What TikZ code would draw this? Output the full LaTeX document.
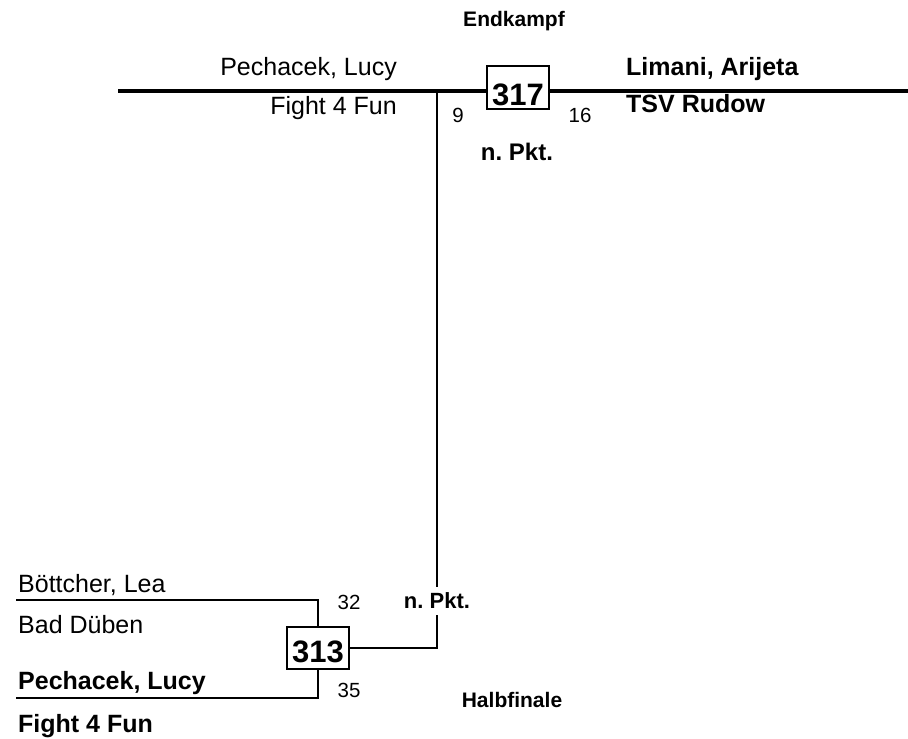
\documentclass[tikz,border=0pt]{standalone}
\usepackage{fontspec}
\setmainfont{Liberation Sans}
\usetikzlibrary{calc}

\tikzset{
  fighter/.style={font=\fontsize{25}{30}\selectfont, inner sep=0pt},
  winner/.style={font=\fontsize{25}{30}\selectfont\bfseries, inner sep=0pt},
  points/.style={font=\fontsize{20.5}{24}\selectfont, inner sep=0pt},
  roundlbl/.style={font=\fontsize{21}{25}\selectfont\bfseries, inner sep=0pt},
  boutbox/.style={draw, line width=1.3pt, inner sep=0pt, minimum width=62pt,
    font=\fontsize{31}{36}\selectfont\bfseries, anchor=base},
  bracket/.style={line width=2.7pt},
}

\begin{document}
\frenchspacing
\begin{tikzpicture}[x=1pt, y=-1pt]
\useasboundingbox (0,0) rectangle (908,739);

% Endkampf
\node[roundlbl, anchor=base] (final) at (514,26) {Endkampf};
\coordinate (tl) at (118,91);
\coordinate (tr) at (908,91);
\node[boutbox, text height=39pt, text depth=4pt] (b317) at (518,105) {317};

\node[fighter, anchor=base east] (redname) at (397,75) {Pechacek, Lucy};
\node[fighter, anchor=base east] (redclub) at (397,114) {Fight 4 Fun};
\node[winner, anchor=base west] (bluename) at (626,75) {Limani, Arijeta};
\node[winner, anchor=base west] (blueclub) at (626,112) {TSV Rudow};

\node[points, anchor=base] (p9) at (458,122) {9};
\node[points, anchor=base] (p16) at (580,122) {16};
\node[roundlbl, font=\fontsize{24}{28}\selectfont\bfseries, anchor=base] (pkt1) at (517,160) {n. Pkt.};

\draw[line width=3.3pt] (tl) -- (tl -| b317.west);
\draw[line width=3.3pt] (tl -| b317.east) -- (tr);

% Halbfinale
\node[boutbox, text height=35pt, text depth=7pt] (b313) at (318,662) {313};
\coordinate (a1) at (16,600);
\coordinate (a2) at (16,698);

\node[fighter, anchor=base west] (upname) at (18,592) {Böttcher, Lea};
\node[fighter, anchor=base west] (upclub) at (18,633) {Bad Düben};
\node[winner, anchor=base west] (lowname) at (18,689) {Pechacek, Lucy};
\node[winner, anchor=base west] (lowclub) at (18,732) {Fight 4 Fun};

\node[points, anchor=base] (p32) at (349,609) {32};
\node[points, anchor=base] (p35) at (349,697) {35};
\node[roundlbl, font=\fontsize{22}{26}\selectfont\bfseries, inner ysep=6pt] (pkt2) at (437,601) {n. Pkt.};
\node[roundlbl, anchor=base] (semi) at (512,707) {Halbfinale};

\draw[bracket] (a1) -- (a1 -| b313.north) -- (b313.north);
\draw[bracket] (a2) -- (a2 -| b313.south) -- (b313.south);

% Weg ins Finale
\draw[bracket] (pkt2.north) -- (pkt2 |- tl);
\draw[bracket] (pkt2.south) -- (pkt2.south |- b313.east) -- (b313.east);

\end{tikzpicture}
\end{document}
